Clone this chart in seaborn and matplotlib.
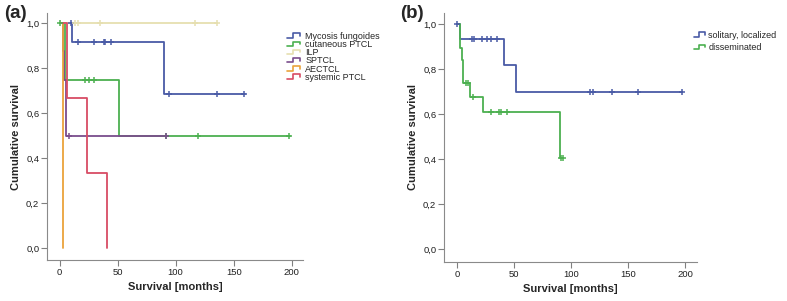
import numpy as np
import pandas as pd
import matplotlib
matplotlib.use("Agg")
import matplotlib.pyplot as plt
import seaborn as sns
from matplotlib.lines import Line2D
from matplotlib.legend_handler import HandlerBase

# ---- panel (a): survival by entity ----
# each group: drop times, survival level after each drop, censor times, end of follow-up
mf_drops = [11, 90]
mf_levels = [0.917, 0.6875]
mf_censor = [10, 15.5, 30, 38, 39.5, 44, 94, 136, 159]
mf_end = 160

cptcl_drops = [4.5, 51.5]
cptcl_levels = [0.75, 0.5]
cptcl_censor = [0, 21.5, 25.5, 30, 92, 119.5, 198]
cptcl_end = 198.5

ilp_drops = []
ilp_levels = []
ilp_censor = [13.5, 15.5, 34.5, 117, 135.5]
ilp_end = 135.5

sptcl_drops = [3, 4, 5.5]
sptcl_levels = [0.875, 0.75, 0.5]
sptcl_censor = [8.5, 92]
sptcl_end = 92

aectcl_drops = [3]
aectcl_levels = [0.0]
aectcl_censor = []
aectcl_end = 3

sptcl_sys_drops = [6.5, 24, 41]
sptcl_sys_levels = [0.667, 0.333, 0.0]
sptcl_sys_censor = []
sptcl_sys_end = 41

labels_a = ["Mycosis fungoides", "cutaneous PTCL", "ILP", "SPTCL", "AECTCL", "systemic PTCL"]
colors_a = ["#4a5ba6", "#4cb050", "#e6dfb0", "#7a4d8c", "#eaa33c", "#d84c64"]

# ---- panel (b): localized vs disseminated ----
sol_drops = [3, 41, 52]
sol_levels = [0.933, 0.817, 0.70]
sol_censor = [0, 13, 15, 22, 26, 29.5, 35, 117, 119.5, 136, 159, 197]
sol_end = 197

dis_drops = [2.5, 4.3, 5.3, 11.5, 23, 90]
dis_levels = [0.895, 0.842, 0.737, 0.674, 0.607, 0.405]
dis_censor = [7.5, 9.5, 14, 30, 37, 38.5, 43.5, 91, 93]
dis_end = 93

labels_b = ["solitary, localized", "disseminated"]
colors_b = ["#4a5ba6", "#4cb050"]

yticks = [0.0, 0.2, 0.4, 0.6, 0.8, 1.0]
ytick_labels = ["0,0", "0,2", "0,4", "0,6", "0,8", "1,0"]
xticks = [0, 50, 100, 150, 200]

sns.set_style("ticks")
plt.rcParams["font.family"] = ["Liberation Sans", "DejaVu Sans"]


def km_frame(drops, levels, end):
    x = [0] + list(drops)
    y = [1.0] + list(levels)
    if end > x[-1]:
        x.append(end)
        y.append(y[-1])
    return pd.DataFrame({"t": x, "s": y})


def level_at(drops, levels, t):
    idx = np.searchsorted(drops, t, side="right")
    return 1.0 if idx == 0 else levels[idx - 1]


def draw_curve(ax, drops, levels, censor, end, color):
    df = km_frame(drops, levels, end)
    sns.lineplot(data=df, x="t", y="s", drawstyle="steps-post", color=color,
                 lw=1.3, estimator=None, sort=False, ax=ax)
    if censor:
        cd = pd.DataFrame({"t": censor,
                           "s": [level_at(drops, levels, c) for c in censor]})
        sns.scatterplot(data=cd, x="t", y="s", marker="+", color=color,
                        s=20, linewidth=1.1, ax=ax, zorder=3)


class StepHandler(HandlerBase):
    def create_artists(self, legend, orig_handle, xdescent, ydescent,
                       width, height, fontsize, trans):
        xs = np.array([0.0, 0.42, 0.42, 0.9, 0.9]) * width - xdescent
        ys = np.array([0.15, 0.15, 0.85, 0.85, 0.45]) * height - ydescent
        line = Line2D(xs, ys, color=orig_handle.get_color(), lw=1.2)
        line.set_transform(trans)
        return [line]


def style_axis(ax, ylim):
    ax.set_xlim(-10.8, 209.7)
    ax.set_ylim(*ylim)
    ax.set_xticks(xticks)
    ax.set_yticks(yticks)
    ax.set_yticklabels(ytick_labels)
    ax.tick_params(labelsize=6.8, length=4, width=0.8, color="#808080",
                   labelcolor="#202020", pad=1.5)
    for side in ["top", "right"]:
        ax.spines[side].set_visible(False)
    for side in ["left", "bottom"]:
        ax.spines[side].set_color("#8a8a8a")
        ax.spines[side].set_linewidth(0.8)
    ax.set_xlabel("Survival [months]", fontsize=8, fontweight="bold", labelpad=4)
    ax.set_ylabel("Cumulative survival", fontsize=8, fontweight="bold", labelpad=4)


fig = plt.figure(figsize=(7.87, 3.01), dpi=100)
ax_a = fig.add_axes([47 / 787, 1 - 260 / 301, 256 / 787, 247 / 301])
ax_b = fig.add_axes([444 / 787, 1 - 262 / 301, 253 / 787, 249 / 301])

groups_a = [
    (mf_drops, mf_levels, mf_censor, mf_end),
    (cptcl_drops, cptcl_levels, cptcl_censor, cptcl_end),
    (ilp_drops, ilp_levels, ilp_censor, ilp_end),
    (sptcl_drops, sptcl_levels, sptcl_censor, sptcl_end),
    (aectcl_drops, aectcl_levels, aectcl_censor, aectcl_end),
    (sptcl_sys_drops, sptcl_sys_levels, sptcl_sys_censor, sptcl_sys_end),
]
for (d, l, c, e), col in zip(groups_a, colors_a):
    draw_curve(ax_a, d, l, c, e, col)
style_axis(ax_a, (-0.052, 1.046))

groups_b = [
    (sol_drops, sol_levels, sol_censor, sol_end),
    (dis_drops, dis_levels, dis_censor, dis_end),
]
for (d, l, c, e), col in zip(groups_b, colors_b):
    draw_curve(ax_b, d, l, c, e, col)
style_axis(ax_b, (-0.058, 1.049))
ax_b.set_xlim(-11.4, 210.5)

handles_a = [Line2D([], [], color=c) for c in colors_a]
ax_a.legend(handles_a, labels_a, loc="upper left",
            bbox_to_anchor=(287 / 787, 1 - 31.7 / 301), bbox_transform=fig.transFigure,
            frameon=False, fontsize=6.5, handlelength=1.65, handleheight=0.7,
            handletextpad=0.35, labelspacing=-0.085, borderpad=0, borderaxespad=0,
            handler_map={Line2D: StepHandler()})

handles_b = [Line2D([], [], color=c) for c in colors_b]
ax_b.legend(handles_b, labels_b, loc="upper left",
            bbox_to_anchor=(694 / 787, 1 - 30.5 / 301), bbox_transform=fig.transFigure,
            frameon=False, fontsize=6.5, handlelength=1.4, handleheight=0.7,
            handletextpad=0.2, labelspacing=0.38, borderpad=0, borderaxespad=0,
            handler_map={Line2D: StepHandler()})

fig.text(4 / 787, 1 - 14 / 301, "(a)", fontsize=13.5, fontweight="bold", va="center")
fig.text(400 / 787, 1 - 14 / 301, "(b)", fontsize=13.5, fontweight="bold", va="center")

fig.savefig("out.png", dpi=100)
